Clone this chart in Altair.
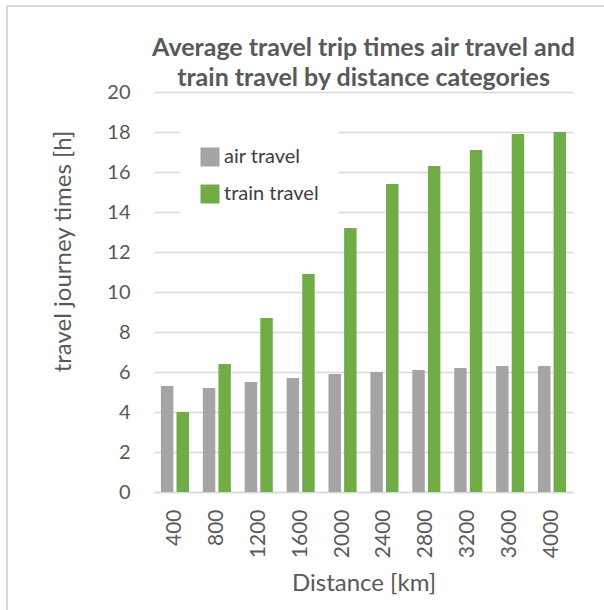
import altair as alt
import pandas as pd

# Distance categories (km) and average trip times (hours)
distances = ["400", "800", "1200", "1600", "2000", "2400", "2800", "3200", "3600", "4000"]
air_travel = [5.3, 5.2, 5.5, 5.7, 5.9, 6.0, 6.1, 6.2, 6.3, 6.3]
train_travel = [4.0, 6.4, 8.7, 10.9, 13.2, 15.4, 16.3, 17.1, 17.9, 18.0]

series = ["air travel", "train travel"]
colors = ["#A5A5A5", "#70AD47"]

rows = []
for d, a, t in zip(distances, air_travel, train_travel):
    rows.append({"distance": d, "mode": series[0], "hours": a})
    rows.append({"distance": d, "mode": series[1], "hours": t})
df = pd.DataFrame(rows)

FONT = "Lato"
GREY_TEXT = "#595959"
GRID = "#D9D9D9"

bars = alt.Chart(df).mark_bar().encode(
    x=alt.X(
        "distance:N",
        sort=distances,
        scale=alt.Scale(paddingInner=0.33, paddingOuter=0.165),
        axis=alt.Axis(
            title="Distance [km]",
            labelAngle=270,
            labelPadding=17,
            labelFontSize=21,
            labelColor=GREY_TEXT,
            ticks=False,
            domainColor=GRID,
            domainWidth=1.5,
            titleFontSize=24,
            titleFontWeight="normal",
            titleColor=GREY_TEXT,
            titleBaseline="middle",
            titleY=91,
        ),
    ),
    xOffset=alt.XOffset("mode:N", sort=series, scale=alt.Scale(paddingInner=0.2)),
    y=alt.Y(
        "hours:Q",
        scale=alt.Scale(domain=[0, 20], nice=False),
        axis=alt.Axis(
            title="travel journey times [h]",
            values=list(range(0, 21, 2)),
            labelPadding=24,
            labelFontSize=20,
            labelColor=GREY_TEXT,
            ticks=False,
            domain=False,
            gridColor=GRID,
            gridWidth=1.3,
            titleFontSize=24,
            titleFontWeight="normal",
            titleColor=GREY_TEXT,
            titleAngle=270,
            titleAlign="center",
            titleBaseline="middle",
            titleX=-91,
            titleY=159,
        ),
    ),
    color=alt.Color(
        "mode:N",
        scale=alt.Scale(domain=series, range=colors),
        legend=alt.Legend(
            title=None,
            orient="none",
            legendX=26,
            legendY=35,
            padding=20,
            fillColor="white",
            symbolType="square",
            symbolSize=361,
            symbolStrokeWidth=0,
            labelFontSize=20,
            labelColor="#404040",
            labelOffset=4,
            rowPadding=17,
        ),
    ),
)

# light frame around the whole figure
frame = alt.Chart(pd.DataFrame({"k": [0]})).mark_rect(
    fill=None, stroke=GRID, strokeWidth=2
).encode(
    x=alt.value(-147), x2=alt.value(480), y=alt.value(-86), y2=alt.value(540)
)

chart = alt.layer(frame, bars).properties(
    width=419,
    height=400,
    autosize=alt.AutoSizeParams(type="none"),
    padding={"left": 154, "top": 92, "right": 31, "bottom": 118},
    title=alt.Title(
        ["Average travel trip times air travel and", "train travel by distance categories"],
        fontSize=25,
        fontWeight="bold",
        color=GREY_TEXT,
        font=FONT,
        lineHeight=30,
        anchor="middle",
        baseline="bottom",
        offset=6,
        dy=117,
    ),
).configure(font=FONT).configure_view(stroke=None)

chart.save("out.html", embed_options={"renderer": "svg", "actions": False})
